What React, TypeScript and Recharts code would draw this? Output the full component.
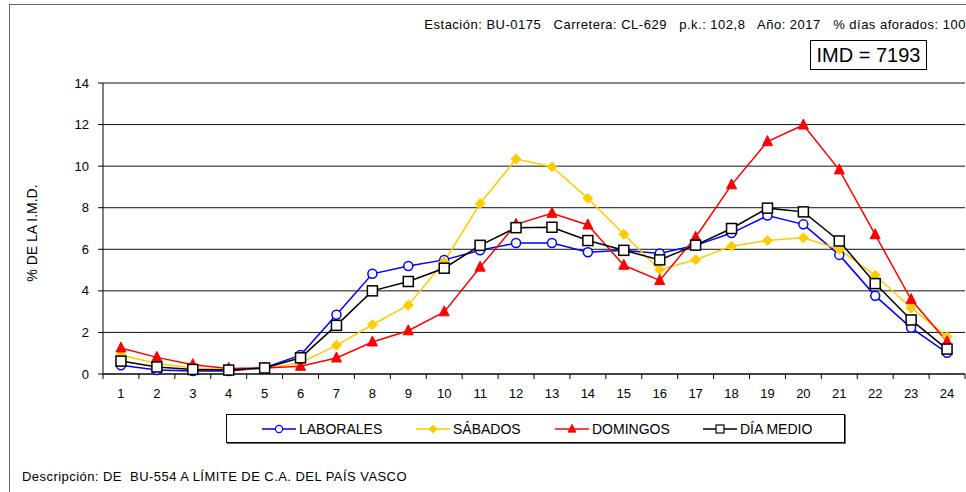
import React from "react";
import { LineChart, Line, XAxis, YAxis, CartesianGrid, Legend } from "recharts";

const hours = [1, 2, 3, 4, 5, 6, 7, 8, 9, 10, 11, 12, 13, 14, 15, 16, 17, 18, 19, 20, 21, 22, 23, 24];
const laborales = [0.42, 0.19, 0.14, 0.14, 0.3, 0.91, 2.85, 4.82, 5.2, 5.49, 5.95, 6.3, 6.3, 5.86, 5.95, 5.8, 6.19, 6.78, 7.62, 7.2, 5.73, 3.76, 2.22, 1.02];
const sabados = [0.91, 0.51, 0.29, 0.22, 0.26, 0.54, 1.38, 2.37, 3.31, 5.4, 8.2, 10.34, 9.97, 8.45, 6.72, 5.02, 5.5, 6.15, 6.42, 6.55, 6.0, 4.75, 3.18, 1.8];
const domingos = [1.25, 0.8, 0.45, 0.27, 0.29, 0.37, 0.77, 1.54, 2.08, 2.99, 5.14, 7.2, 7.73, 7.17, 5.23, 4.5, 6.58, 9.1, 11.18, 11.98, 9.82, 6.7, 3.58, 1.55];
const diaMedio = [0.62, 0.34, 0.22, 0.19, 0.29, 0.78, 2.34, 4.0, 4.45, 5.09, 6.19, 7.04, 7.06, 6.42, 5.95, 5.49, 6.2, 7.0, 7.98, 7.8, 6.4, 4.35, 2.6, 1.2];
const yTicks = [0, 2, 4, 6, 8, 10, 12, 14];
const seriesNames = ["LABORALES", "SÁBADOS", "DOMINGOS", "DÍA MEDIO"];
const headerText = "Estación: BU-0175   Carretera: CL-629   p.k.: 102,8   Año: 2017   % días aforados: 100";
const imdText = "IMD = 7193";
const yTitle = "% DE LA I.M.D.";
const descText = "Descripción: DE  BU-554 A LÍMITE DE C.A. DEL PAÍS VASCO";

const data = hours.map((h, i) => ({
  hour: h,
  laborales: laborales[i],
  sabados: sabados[i],
  domingos: domingos[i],
  diaMedio: diaMedio[i],
}));

const xTicks = [...hours.map((h) => h - 0.5), hours[hours.length - 1] + 0.5, ...hours].sort((a, b) => a - b);

const FONT = "'Liberation Sans', Arial, sans-serif";
const BLUE = "#0000ff";
const GOLD = "#ffcc00";
const RED = "#ff0000";
const BLACK = "#000000";

const Marker = ({ kind, cx, cy }: { kind: string; cx: number; cy: number }) => {
  if (kind === "circle")
    return <circle cx={cx} cy={cy} r={4.5} fill="#fff" stroke={BLUE} strokeWidth={1.5} />;
  if (kind === "diamond")
    return (
      <polygon
        points={`${cx},${cy - 5} ${cx + 5},${cy} ${cx},${cy + 5} ${cx - 5},${cy}`}
        fill={GOLD}
        stroke={GOLD}
        strokeWidth={1}
      />
    );
  if (kind === "triangle")
    return (
      <polygon
        points={`${cx},${cy - 6} ${cx + 5},${cy + 4} ${cx - 5},${cy + 4}`}
        fill={RED}
        stroke={RED}
        strokeWidth={1}
      />
    );
  return <rect x={cx - 5} y={cy - 5} width={10} height={10} fill="#fff" stroke={BLACK} strokeWidth={1.5} />;
};

const makeDot = (kind: string) => (p: any) => {
  if (p.cx == null || p.cy == null) return <g key={`e-${kind}-${p.index}`} />;
  return (
    <g key={`d-${kind}-${p.index}`}>
      <Marker kind={kind} cx={p.cx} cy={p.cy} />
    </g>
  );
};

const XTick = (props: any) => {
  const { x, y, payload } = props;
  const v = payload.value as number;
  if (Number.isInteger(v)) {
    return (
      <text x={x} y={y + 24} textAnchor="middle" fontSize={13} fontFamily={FONT} fill="#000">
        {v}
      </text>
    );
  }
  return <line x1={x} y1={y} x2={x} y2={y + 5} stroke="#000" strokeWidth={1} />;
};

const kinds: Record<string, { kind: string; color: string }> = {
  LABORALES: { kind: "circle", color: BLUE },
  "SÁBADOS": { kind: "diamond", color: GOLD },
  DOMINGOS: { kind: "triangle", color: RED },
  "DÍA MEDIO": { kind: "square", color: BLACK },
};

const LegendContent = (props: any) => {
  const payload = [...(props.payload || [])].sort(
    (a: any, b: any) => seriesNames.indexOf(a.value) - seriesNames.indexOf(b.value)
  );
  const widths = [154, 139, 148, 120];
  return (
    <div
      style={{
        boxSizing: "border-box",
        width: 619,
        height: 29,
        border: "1px solid #000",
        boxShadow: "1px 1px 0 #666",
        background: "#fff",
        display: "flex",
        alignItems: "center",
        paddingLeft: 35,
        fontFamily: FONT,
        fontSize: 14,
        color: "#000",
      }}
    >
      {payload.map((entry: any, i: number) => {
        const k = kinds[entry.value as string];
        return (
          <div key={entry.value} style={{ display: "flex", alignItems: "center", width: widths[i] }}>
            <svg width={34} height={12} style={{ marginRight: 3 }}>
              <line x1={0} y1={6} x2={34} y2={6} stroke={k.color} strokeWidth={1.5} />
              <g transform="translate(17,6) scale(0.8)">
                <Marker kind={k.kind} cx={0} cy={0} />
              </g>
            </svg>
            <span>{entry.value}</span>
          </div>
        );
      })}
    </div>
  );
};

export default function App() {
  return (
    <div
      style={{
        position: "absolute",
        left: 0,
        top: 0,
        width: 966,
        height: 492,
        overflow: "hidden",
        background: "#fff",
        fontFamily: FONT,
      }}
    >
      <div
        style={{
          position: "absolute",
          left: 9,
          top: 4,
          width: 1000,
          height: 600,
          border: "1px solid #666",
        }}
      />
      <div
        style={{
          position: "absolute",
          right: 0,
          top: 17,
          fontSize: 13,
          letterSpacing: 0.5,
          whiteSpace: "pre",
          color: "#000",
        }}
      >
        {headerText}
      </div>
      <div
        style={{
          position: "absolute",
          left: 810,
          top: 40,
          width: 117,
          height: 30,
          boxSizing: "border-box",
          border: "1px solid #000",
          fontSize: 20,
          display: "flex",
          alignItems: "center",
          justifyContent: "center",
          color: "#000",
          background: "#fff",
        }}
      >
        {imdText}
      </div>
      <div
        style={{
          position: "absolute",
          left: 32,
          top: 233,
          transform: "translate(-50%, -50%) rotate(-90deg)",
          fontSize: 14,
          whiteSpace: "nowrap",
          color: "#000",
        }}
      >
        {yTitle}
      </div>
      <div
        style={{
          position: "absolute",
          left: 22,
          top: 469,
          fontSize: 13,
          letterSpacing: 0.45,
          whiteSpace: "pre",
          color: "#000",
        }}
      >
        {descText}
      </div>
      <div style={{ position: "absolute", left: 0, top: 0 }}>
        <LineChart width={966} height={492} data={data} margin={{ top: 83, right: 1, bottom: 88, left: 0 }}>
          <CartesianGrid vertical={false} stroke="#111" strokeWidth={1} />
          <XAxis
            dataKey="hour"
            type="number"
            domain={[0.5, 24.5]}
            ticks={xTicks}
            allowDecimals
            interval={0}
            tickLine={false}
            tickSize={0}
            tickMargin={0}
            tick={<XTick />}
            axisLine={{ stroke: "#000" }}
            height={30}
          />
          <YAxis
            domain={[0, 14]}
            ticks={yTicks}
            interval={0}
            width={103}
            tickSize={5}
            tickMargin={9}
            tick={{ fontSize: 13, fontFamily: FONT, fill: "#000" }}
            tickLine={{ stroke: "#000" }}
            axisLine={{ stroke: "#000" }}
          />
          <Legend
            layout="horizontal"
            verticalAlign="middle"
            align="center"
            content={<LegendContent />}
            wrapperStyle={{ position: "absolute", left: 226, top: 414, width: 619, height: 29 }}
          />
          <Line
            name={seriesNames[0]}
            dataKey="laborales"
            stroke={BLUE}
            strokeWidth={1.5}
            dot={makeDot("circle")}
            activeDot={false}
            isAnimationActive={false}
          />
          <Line
            name={seriesNames[1]}
            dataKey="sabados"
            stroke={GOLD}
            strokeWidth={1.5}
            dot={makeDot("diamond")}
            activeDot={false}
            isAnimationActive={false}
          />
          <Line
            name={seriesNames[2]}
            dataKey="domingos"
            stroke={RED}
            strokeWidth={1.5}
            dot={makeDot("triangle")}
            activeDot={false}
            isAnimationActive={false}
          />
          <Line
            name={seriesNames[3]}
            dataKey="diaMedio"
            stroke={BLACK}
            strokeWidth={1.5}
            dot={makeDot("square")}
            activeDot={false}
            isAnimationActive={false}
          />
        </LineChart>
      </div>
    </div>
  );
}
